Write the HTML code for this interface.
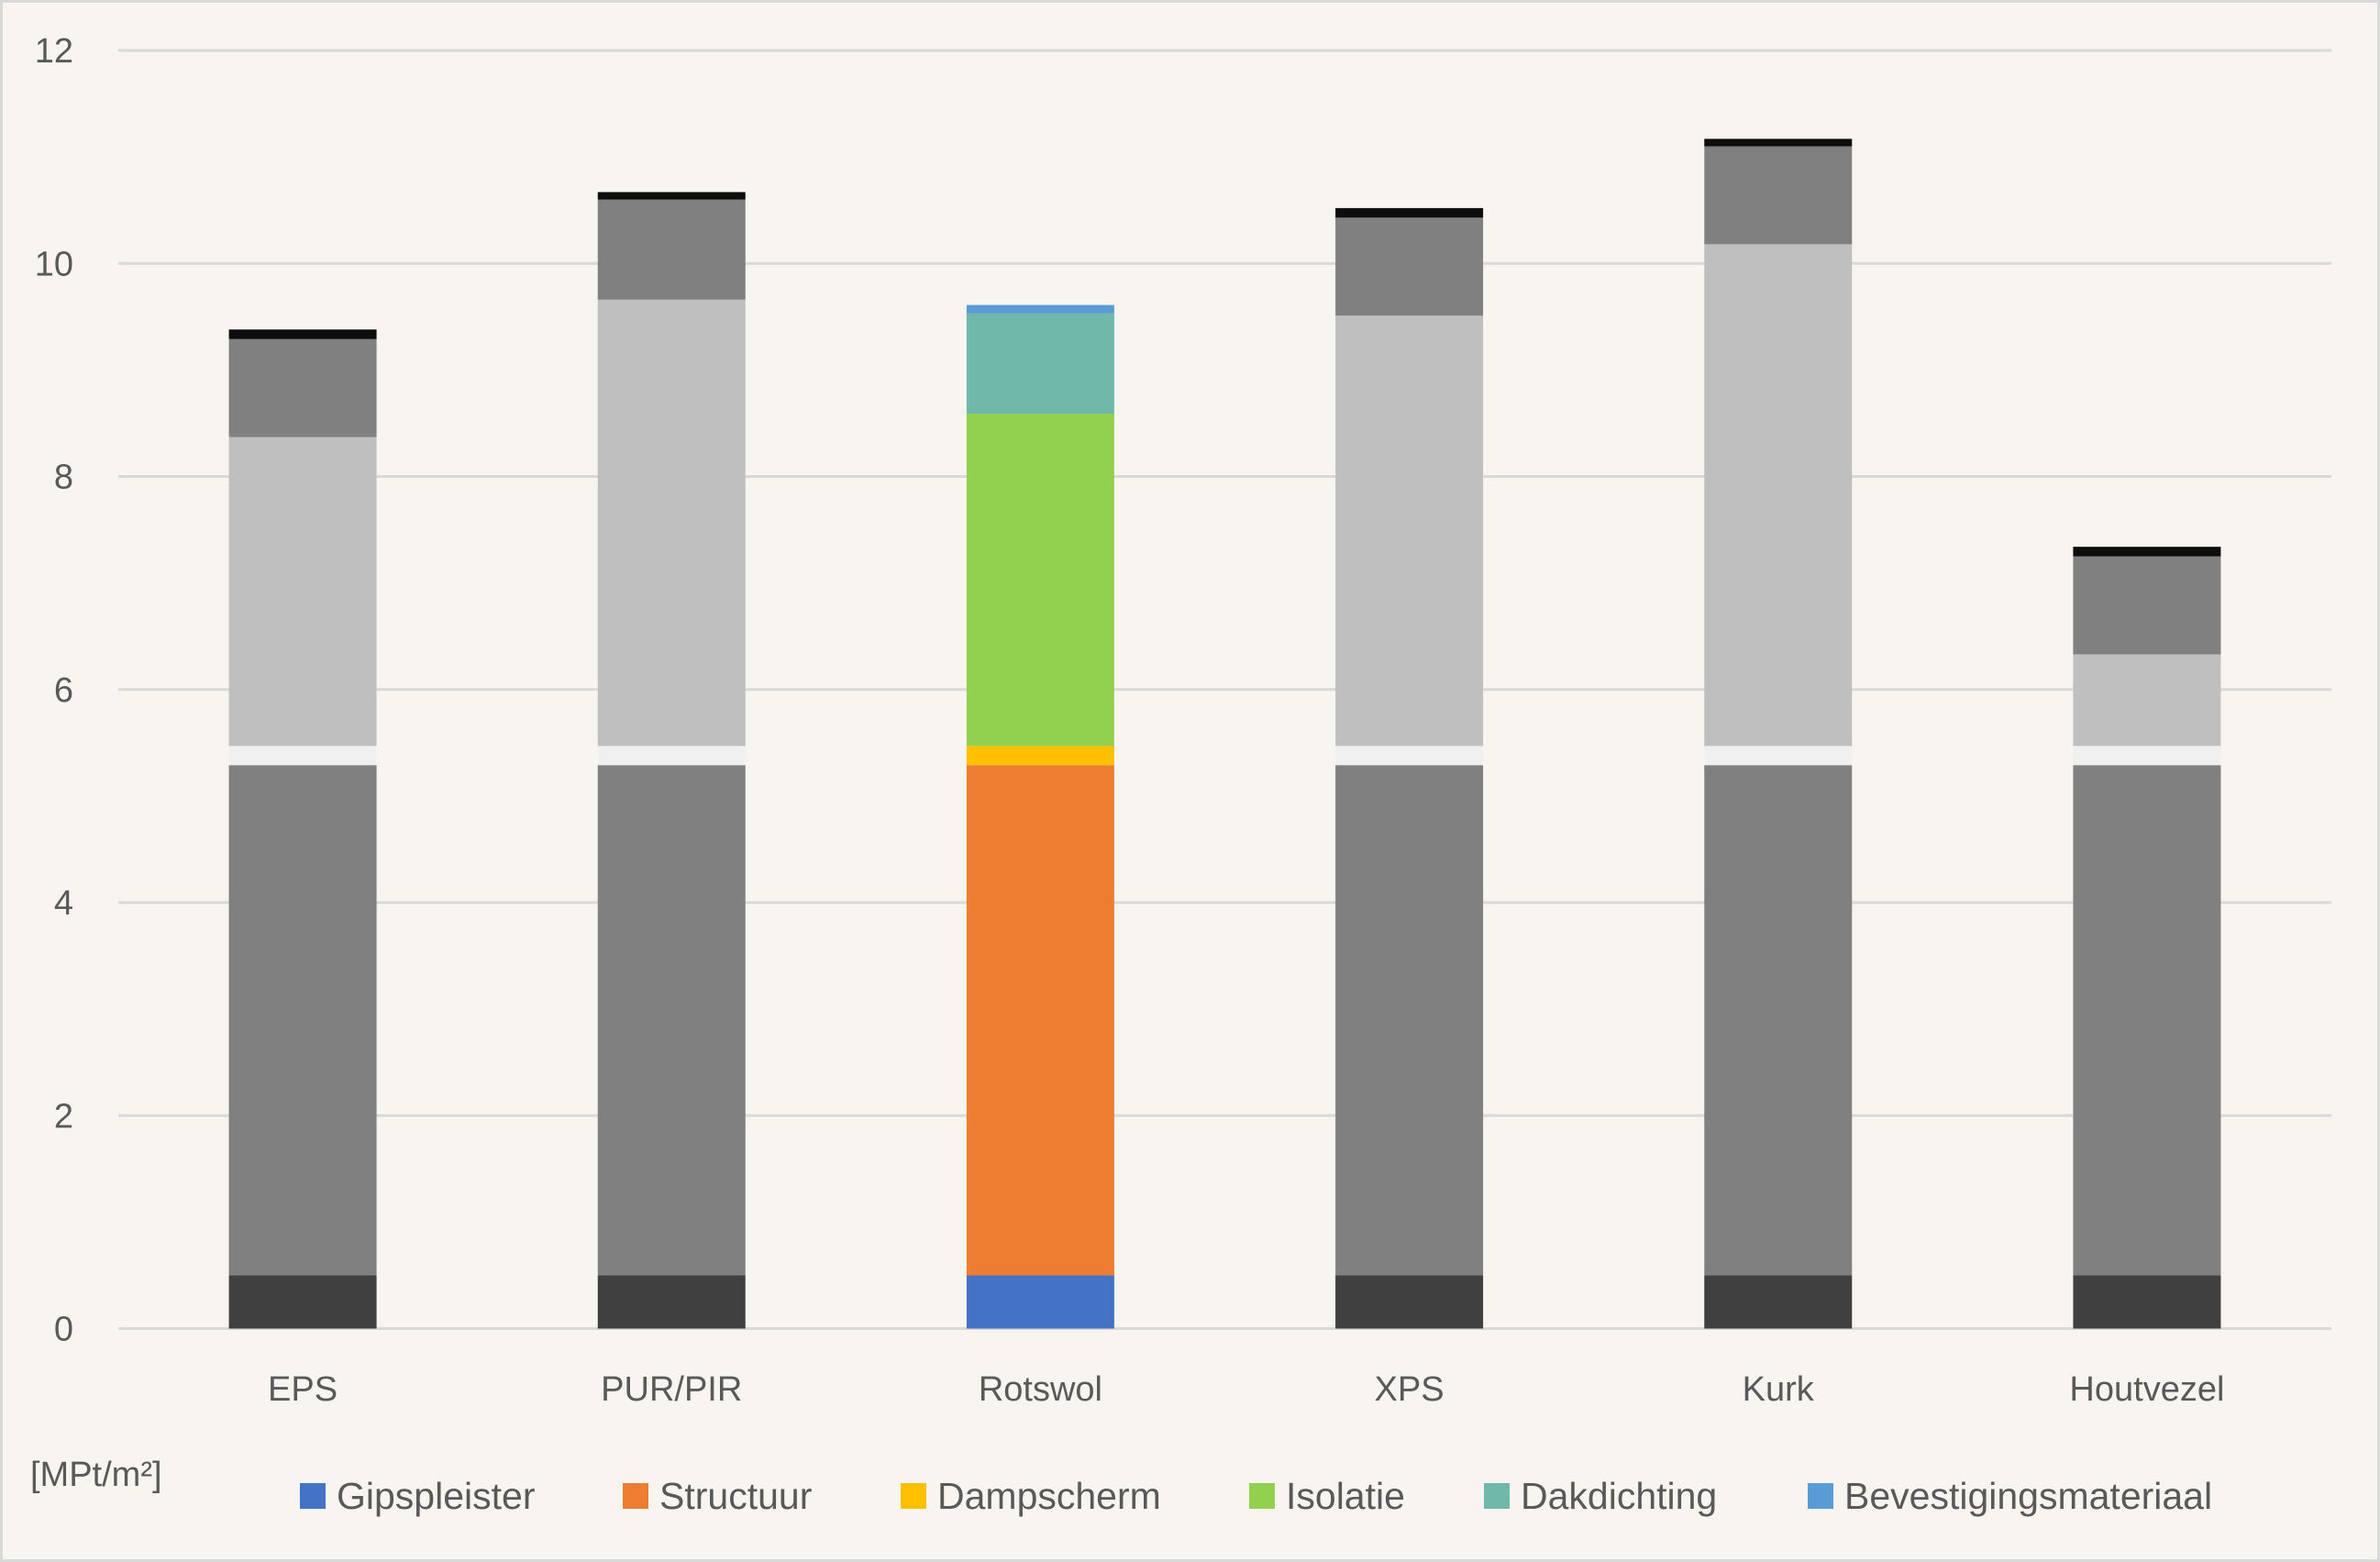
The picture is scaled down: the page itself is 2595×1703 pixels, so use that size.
<!DOCTYPE html>
<html><head><meta charset="utf-8"><style>
html,body{margin:0;padding:0;background:#f8f5f0;}
svg{display:block;font-family:"Liberation Sans",sans-serif;}
</style></head><body>
<svg id="chart" width="2595" height="1703" viewBox="0 0 2595 1703" xmlns="http://www.w3.org/2000/svg">
<rect x="1.5" y="1.5" width="2592" height="1700" fill="#f8f5f0" stroke="#d9d9d9" stroke-width="3"/>
<g id="grid"></g><g id="bars"></g><g id="labels"></g><g id="legend"></g>
<text x="33" y="1620" font-size="38" fill="#595959">[MPt/m²]</text>
</svg>
<script>
const categories = ["EPS","PUR/PIR","Rotswol","XPS","Kurk","Houtvezel"];
const seriesNames = ["Gipspleister","Structuur","Dampscherm","Isolatie","Dakdichting","Bevestigingsmateriaal"];
const gipspleister = [0.5,0.5,0.5,0.5,0.5,0.5];
const structuur = [4.79,4.79,4.79,4.79,4.79,4.79];
const dampscherm = [0.18,0.18,0.18,0.18,0.18,0.18];
const isolatie = [2.9,4.19,3.12,4.04,4.71,0.86];
const dakdichting = [0.92,0.94,0.94,0.92,0.92,0.92];
const bevestiging = [0.09,0.07,0.08,0.09,0.07,0.09];
const yTicks = [0,2,4,6,8,10,12];
const series = [gipspleister,structuur,dampscherm,isolatie,dakdichting,bevestiging];
const colorColors = ["#4472c4","#ed7d31","#ffc000","#92d050","#6fb8aa","#5b9bd5"];
const greyColors = ["#404040","#808080","#f0f0f0","#bfbfbf","#808080","#0d0d0d"];
const NS="http://www.w3.org/2000/svg";
const left=129,right=2542,y0=1448.5,y12=55;
const y=v=>y0-(v/12)*(y0-y12);
const band=(right-left)/categories.length;
const xc=i=>left+band*(i+0.5);
const bw=161;
function mk(tag,attrs,parent){const e=document.createElementNS(NS,tag);for(const k in attrs)e.setAttribute(k,attrs[k]);parent.appendChild(e);return e;}
const grid=document.getElementById('grid');
yTicks.forEach(t=>{
  const l=mk('line',{x1:left,x2:right,y1:y(t),y2:y(t),stroke:'#d9d9d9','stroke-width':3},grid);
  
  
  const tx=mk('text',{x:80,y:y(t)+13,'text-anchor':'end','font-size':38,fill:'#595959'},grid);
  tx.textContent=t;
  
  
});
const bars=document.getElementById('bars');
categories.forEach((c,i)=>{
  let cum=0;
  const cols=c==="Rotswol"?colorColors:greyColors;
  series.forEach((s,j)=>{
    const v=s[i];
    const r=mk('rect',{x:xc(i)-bw/2,y:y(cum+v),width:bw,height:y(cum)-y(cum+v),fill:cols[j]},bars);
    
    
    cum+=v;
  });
  const t=mk('text',{x:xc(i),y:1527,'text-anchor':'middle','font-size':38,fill:'#595959'},document.getElementById('labels'));
  t.textContent=c;
  
  
});
const legend=document.getElementById('legend');
const legX=[327,679,982,1362,1618,1971];
seriesNames.forEach((n,j)=>{
  const r=mk('rect',{x:legX[j],y:1617,width:28,height:28,fill:colorColors[j]},legend);
  
  
  const t=mk('text',{x:legX[j]+40,y:1645,'font-size':41,fill:'#595959'},legend);
  t.textContent=n;
  
  
});
</script>
</body></html>
